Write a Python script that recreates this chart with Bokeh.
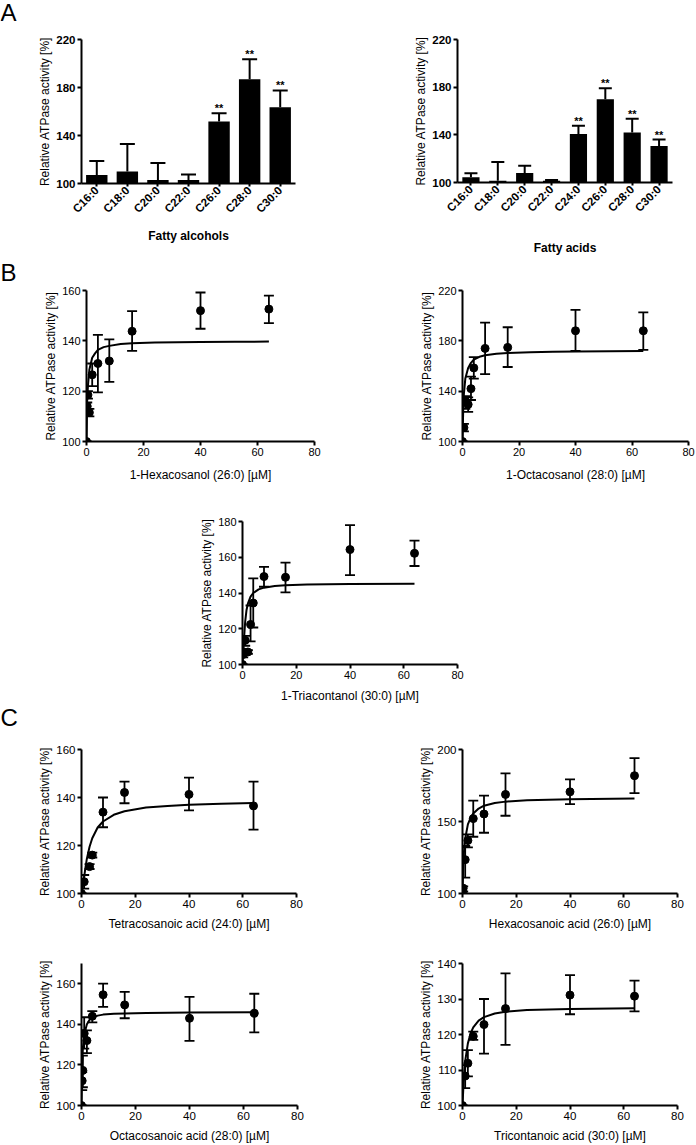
import math
from bokeh.plotting import figure
from bokeh.models import ColumnDataSource, FixedTicker, Range1d, FactorRange
from bokeh.layouts import row, column
from bokeh.embed import file_html
from bokeh.resources import INLINE
from bokeh.core.properties import value

FONT = "Liberation Sans"

# ---------------- Panel A data ----------------
alc_cats = ["C16:0", "C18:0", "C20:0", "C22:0", "C26:0", "C28:0", "C30:0"]
alc_mean = [107, 110, 103, 103, 151.6, 186.8, 163.6]
alc_upper = [118.7, 133, 117, 107.5, 158.6, 203.5, 177.6]
alc_sig = ["", "", "", "", "**", "**", "**"]

acid_cats = ["C16:0", "C18:0", "C20:0", "C22:0", "C24:0", "C26:0", "C28:0", "C30:0"]
acid_mean = [104.5, 101.4, 108, 101.4, 140.7, 169.8, 142, 130.7]
acid_upper = [107.8, 117.3, 114, 102, 147.7, 179, 153.6, 136]
acid_sig = ["", "", "", "", "**", "**", "**", "**"]

bar_yticks = [100, 140, 180, 220]

# ---------------- Panel B data ----------------
hexol_x = [0, 0.25, 0.5, 1, 2, 4, 8, 16, 40, 64]
hexol_y = [100, 114, 118.5, 111.5, 126.5, 131, 132, 143.8, 152, 152.6]
hexol_lo = [100, 113, 117, 110, 122, 119.5, 123.7, 136, 144.8, 147]
hexol_hi = [100, 115.5, 120, 113, 131, 142.4, 140.6, 151.8, 159.2, 158]
hexol_fit_x = [0, 0.25, 0.5, 1, 2, 3, 4, 6, 8, 12, 16, 24, 32, 40, 52, 64]
hexol_fit_y = [100, 117, 122, 128.5, 133.3, 135, 136.4, 137.5, 138, 138.7, 139, 139.3, 139.4, 139.5, 139.6, 139.7]

octol_x = [0, 0.5, 1, 2, 3, 4, 8, 16, 40, 64]
octol_y = [100, 111, 132, 129.5, 142, 158.5, 174, 174.8, 188, 188]
octol_lo = [100, 108, 126, 123.5, 133, 150, 153.5, 159.2, 172, 172.8]
octol_hi = [100, 114, 136, 135, 151.5, 167, 194.5, 190.8, 204.6, 202.6]
octol_fit_x = [0, 0.25, 0.5, 1, 2, 3, 4, 6, 8, 12, 16, 24, 32, 40, 52, 64]
octol_fit_y = [100, 125, 138, 150, 158.5, 162.5, 165, 167.3, 168.5, 169.8, 170.4, 171, 171.3, 171.5, 171.8, 172]

triol_x = [0, 0.25, 0.5, 1, 2, 3, 4, 8, 16, 40, 64]
triol_y = [100, 105.6, 107, 113.5, 107, 122.4, 134.4, 149.2, 148.8, 164.3, 162.2]
triol_lo = [100, 104, 105.5, 110.5, 106, 112.9, 120.7, 143.5, 140.4, 150, 155.1]
triol_hi = [100, 107, 108.5, 116, 108, 133, 148.2, 154.6, 157, 178, 169.3]
triol_fit_x = [0, 0.25, 0.5, 1, 1.5, 2, 3, 4, 6, 8, 12, 16, 24, 40, 64]
triol_fit_y = [100, 106, 113, 124, 130.5, 134, 138, 140, 142, 143, 143.9, 144.3, 144.7, 145, 145.2]

# ---------------- Panel C data ----------------
tetra_x = [0, 1, 3, 4, 8, 16, 40, 64]
tetra_y = [100, 104.9, 111.2, 116, 133.9, 142.1, 141.3, 136.5]
tetra_lo = [100, 102, 110.2, 115, 127.6, 137.6, 134.6, 126.6]
tetra_hi = [100, 107.7, 112.2, 117, 140, 146.6, 148.3, 146.6]
tetra_fit_x = [0, 0.5, 1, 1.5, 2, 3, 4, 6, 8, 12, 16, 24, 32, 40, 52, 64]
tetra_fit_y = [100, 103, 107, 111, 114.5, 119.5, 123, 127.5, 130, 132.8, 134.3, 135.8, 136.5, 137, 137.4, 137.7]

hexac_x = [0, 0.25, 1, 2, 4, 8, 16, 40, 64]
hexac_y = [100, 103.7, 123.5, 136.8, 152, 155.2, 168.8, 170.6, 181.8]
hexac_lo = [100, 101.5, 111, 132, 139.4, 142.2, 154, 162, 169.7]
hexac_hi = [100, 105, 133, 141, 164.5, 168, 183.4, 179.3, 194]
hexac_fit_x = [0, 0.25, 0.5, 1, 2, 3, 4, 6, 8, 12, 16, 24, 40, 64]
hexac_fit_y = [100, 118, 128, 138, 148, 152.5, 155.5, 159, 161, 162.8, 163.8, 164.8, 165.5, 166]

octac_x = [0, 0.25, 0.5, 1, 2, 4, 8, 16, 40, 64]
octac_y = [100, 112.2, 117.3, 135.5, 132, 144, 154.6, 149.6, 143, 145.5]
octac_lo = [100, 107.6, 109, 128, 125.8, 141, 148.6, 143, 131.9, 136]
octac_hi = [100, 116.5, 124.6, 143.5, 137, 146.5, 160.1, 156, 153.5, 155.1]
octac_fit_x = [0, 0.25, 0.5, 1, 2, 3, 4, 6, 8, 12, 16, 24, 40, 64]
octac_fit_y = [100, 120, 128, 135, 140, 142.3, 143.3, 144.3, 144.8, 145.2, 145.4, 145.6, 145.8, 146]

tricac_x = [0, 1, 2, 4, 8, 16, 40, 64]
tricac_y = [100, 108.3, 111.9, 119.5, 122.8, 127.3, 131.1, 130.8]
tricac_lo = [100, 104.9, 108.2, 118.5, 114.6, 117.1, 125.7, 126.5]
tricac_hi = [100, 111.4, 115.6, 120.8, 130, 137.2, 136.7, 135.2]
tricac_fit_x = [0, 0.5, 1, 2, 3, 4, 6, 8, 12, 16, 24, 40, 64]
tricac_fit_y = [100, 108, 112.5, 117.5, 120.3, 122, 123.9, 124.9, 125.9, 126.4, 126.9, 127.2, 127.4]

dose_xticks = [0, 20, 40, 60, 80]
panel_letters = ["A", "B", "C"]
YLABEL = "Relative ATPase activity [%]"


def style_axes(p, tick_size, bold_ticks=False):
    for ax in (p.xaxis[0], p.yaxis[0]):
        ax.axis_line_width = 2
        ax.axis_line_color = "black"
        ax.major_tick_line_width = 2
        ax.major_tick_line_color = "black"
        ax.major_tick_out = 4
        ax.major_tick_in = 0
        ax.minor_tick_line_color = None
        ax.major_label_text_font = FONT
        ax.major_label_text_font_size = tick_size
        ax.major_label_text_color = "black"
        ax.major_label_text_font_style = "bold" if bold_ticks else "normal"
        ax.major_label_standoff = 2
        ax.axis_label_text_font = FONT
        ax.axis_label_text_font_size = "12px"
        ax.axis_label_text_color = "black"
        ax.axis_label_text_font_style = "normal"
    p.grid.visible = False
    p.outline_line_color = None
    p.background_fill_color = "white"
    p.border_fill_color = "white"


def letter_fig(h, txt, baseline_from_top):
    p = figure(width=22, height=h, x_range=Range1d(0, 22), y_range=Range1d(0, h), title=None,
               x_axis_location=None, y_axis_location=None, frame_align=False,
               output_backend="svg", toolbar_location=None, min_border=0)
    p.grid.visible = False
    p.outline_line_color = None
    p.text(x=[0], y=[h - baseline_from_top], text=[txt], text_baseline="alphabetic", text_align="left",
           text_font=value(FONT), text_font_size="24px", text_color="black")
    return p


def bar_fig(w, h, mbl, mbr, mbt, mbb, cats, mean, upper, sig, xlabel, bw, cap, xlab_standoff):
    p = figure(width=w, height=h, x_range=FactorRange(factors=cats), y_range=Range1d(100, 220), title=None,
               output_backend="svg", toolbar_location=None, frame_align=False,
               min_border_left=mbl, min_border_right=mbr, min_border_top=mbt, min_border_bottom=mbb)
    src = ColumnDataSource(dict(cat=cats, mean=mean, upper=upper, sig=sig))
    p.segment(x0="cat", y0="mean", x1="cat", y1="upper", source=src, line_color="black", line_width=2)
    p.scatter(x="cat", y="upper", marker="dash", size=cap, line_width=2, line_color="black", source=src)
    p.vbar(x="cat", top="mean", bottom=100, width=bw, source=src, fill_color="black", line_color=None)
    p.text(x="cat", y="upper", text="sig", source=src, text_align="center", text_baseline="middle",
           y_offset=-5, text_font=value(FONT), text_font_size="11px", text_font_style="bold",
           text_color="black")
    style_axes(p, "11.5px", bold_ticks=True)
    p.yaxis.ticker = FixedTicker(ticks=bar_yticks)
    p.yaxis.axis_label = YLABEL
    p.yaxis.axis_label_standoff = 1
    p.xaxis.axis_label = xlabel
    p.xaxis.axis_label_text_font_style = "bold"
    p.xaxis.axis_label_standoff = xlab_standoff
    p.xaxis.major_label_orientation = math.pi / 4
    p.xaxis.major_tick_out = 3
    p.xaxis.major_label_text_font_size = "11.5px"
    return p


def dose_fig(w, h, mbl, mbr, mbt, mbb, ymax, yticks, xlabel, xs, ys, lo, hi, fx, fy,
             tick_size="11.5px", xstand=6, ystand=1):
    p = figure(width=w, height=h, x_range=Range1d(0, 80), y_range=Range1d(100, ymax), title=None,
               output_backend="svg", toolbar_location=None, frame_align=False,
               min_border_left=mbl, min_border_right=mbr, min_border_top=mbt, min_border_bottom=mbb)
    src = ColumnDataSource(dict(x=xs, y=ys, lo=lo, hi=hi))
    p.line(fx, fy, line_color="black", line_width=2)
    p.segment(x0="x", y0="lo", x1="x", y1="hi", source=src, line_color="black", line_width=1.8)
    p.scatter(x="x", y="lo", marker="dash", size=10, line_width=1.8, line_color="black", source=src)
    p.scatter(x="x", y="hi", marker="dash", size=10, line_width=1.8, line_color="black", source=src)
    p.scatter(x="x", y="y", size=8, fill_color="black", line_color="black", source=src)
    style_axes(p, tick_size)
    p.xaxis.ticker = FixedTicker(ticks=dose_xticks)
    p.yaxis.ticker = FixedTicker(ticks=yticks)
    p.xaxis.axis_label = xlabel
    p.yaxis.axis_label = YLABEL
    p.xaxis.axis_label_standoff = xstand
    p.yaxis.axis_label_standoff = ystand
    return p


# Row A (height 258)
LA = letter_fig(258, panel_letters[0], 12)
A1 = bar_fig(326, 258, 59, 53, 39, 75, alc_cats, alc_mean, alc_upper, alc_sig, "Fatty alcohols", 0.7, 15, 7)
A2 = bar_fig(348, 258, 109, 24, 39, 75, acid_cats, acid_mean, acid_upper, acid_sig, "Fatty acids", 0.64, 13, 20)

# Row B top (height 242)
LB = letter_fig(242, panel_letters[1], 14)
B1 = dose_fig(326, 242, 64, 34, 32, 59, 160, [100, 120, 140, 160], "1-Hexacosanol (26:0) [µM]",
              hexol_x, hexol_y, hexol_lo, hexol_hi, hexol_fit_x, hexol_fit_y, "11px", 9, 1)
B2 = dose_fig(348, 242, 114, 8, 32, 59, 220, [100, 140, 180, 220], "1-Octacosanol (28:0) [µM]",
              octol_x, octol_y, octol_lo, octol_hi, octol_fit_x, octol_fit_y, "11px", 9, 1)

# Row B bottom (height 205)
B3 = dose_fig(696, 205, 242, 239, 21, 41, 180, [100, 120, 140, 160, 180], "1-Triacontanol (30:0) [µM]",
              triol_x, triol_y, triol_lo, triol_hi, triol_fit_x, triol_fit_y, "11px", 7, 1)

# Row C top (height 230)
LC = letter_fig(230, panel_letters[2], 12)
C1 = dose_fig(326, 230, 59, 52, 44, 42, 160, [100, 120, 140, 160], "Tetracosanoic acid (24:0) [µM]",
              tetra_x, tetra_y, tetra_lo, tetra_hi, tetra_fit_x, tetra_fit_y)
C2 = dose_fig(348, 230, 114, 19, 44, 42, 200, [100, 150, 200], "Hexacosanoic acid (26:0) [µM]",
              hexac_x, hexac_y, hexac_lo, hexac_hi, hexac_fit_x, hexac_fit_y)

# Row C bottom (height 210)
C3 = dose_fig(348, 210, 81, 51, 28, 38, 170, [100, 120, 140, 160], "Octacosanoic acid (28:0) [µM]",
              octac_x, octac_y, octac_lo, octac_hi, octac_fit_x, octac_fit_y)
C4 = dose_fig(348, 210, 114, 19, 28, 38, 140, [100, 110, 120, 130, 140], "Tricontanoic acid (30:0) [µM]",
              tricac_x, tricac_y, tricac_lo, tricac_hi, tricac_fit_x, tricac_fit_y)

layout = column(row(LA, A1, A2), row(LB, B1, B2), B3, row(LC, C1, C2), row(C3, C4))

with open("out.html", "w") as f:
    f.write(file_html(layout, INLINE))
